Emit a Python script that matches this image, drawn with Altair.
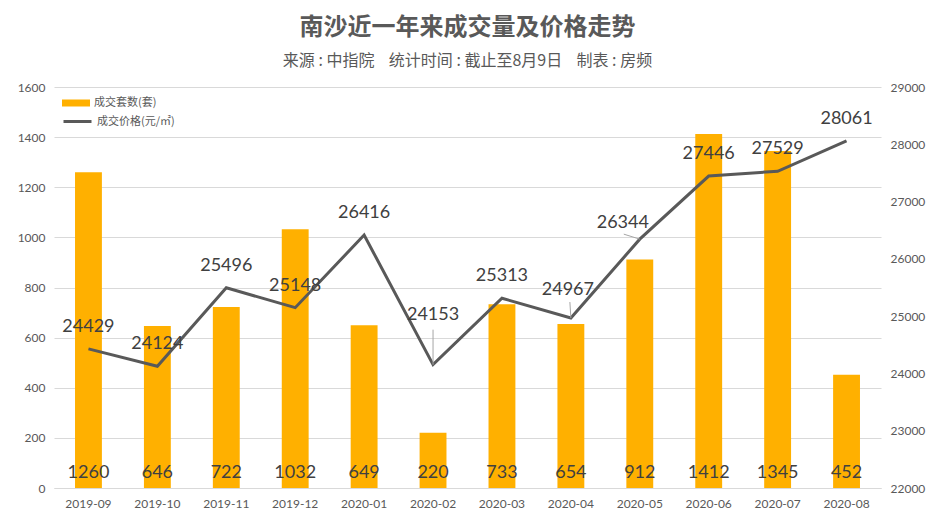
import altair as alt
import pandas as pd

months = ["2019-09", "2019-10", "2019-11", "2019-12", "2020-01", "2020-02",
          "2020-03", "2020-04", "2020-05", "2020-06", "2020-07", "2020-08"]
volumes = [1260, 646, 722, 1032, 649, 220, 733, 654, 912, 1412, 1345, 452]
prices = [24429, 24124, 25496, 25148, 26416, 24153, 25313, 24967, 26344, 27446, 27529, 28061]

bar_name = "成交套数(套)"
line_name = "成交价格(元/㎡)"

df = pd.DataFrame({"month": months, "volume": volumes, "price": prices,
                   "bar_s": bar_name, "line_s": line_name, "zero": 0})

ORANGE = "#FFB000"
GRAY = "#595959"
NUMFONT = "Lato"
CJK = "Noto Sans CJK SC"
NB = "\u00a0"

x = alt.X("month:N", sort=months, title=None,
          scale=alt.Scale(paddingInner=0.61, paddingOuter=0.305),
          axis=alt.Axis(labelAngle=0, ticks=False, domainColor="#D9D9D9",
                        labelColor=GRAY, labelFont=NUMFONT, labelFontSize=12,
                        labelPadding=10, grid=False))

left_scale = alt.Scale(domain=[0, 1600], nice=False)
left_axis = alt.Axis(values=list(range(0, 1601, 200)), ticks=False, domain=False,
                     format="d",
                     labelColor=GRAY, labelFont=NUMFONT, labelFontSize=12,
                     labelPadding=9, grid=True, gridColor="#D9D9D9")

bars = alt.Chart(df).mark_bar(color=ORANGE).encode(
    x=x,
    y=alt.Y("volume:Q", title=None, scale=left_scale, axis=left_axis),
    fill=alt.Fill("bar_s:N", title=None,
                  scale=alt.Scale(domain=[bar_name], range=[ORANGE]),
                  legend=alt.Legend(orient="none", legendX=8, legendY=2,
                                    symbolType="M-1,-0.25H1V0.25H-1Z", symbolSize=784,
                                    symbolStrokeWidth=0,
                                    labelFont=CJK, labelFontSize=11, labelColor=GRAY,
                                    labelOffset=4))
)

bar_text = alt.Chart(df).mark_text(font=NUMFONT, fontSize=18, color="#404040",
                                   baseline="middle", dy=-15).encode(
    x=x,
    y=alt.Y("zero:Q", title=None, scale=left_scale, axis=left_axis),
    text=alt.Text("volume:Q")
)

left = alt.layer(bars, bar_text)

right_scale = alt.Scale(domain=[22000, 29000], nice=False)
right_axis = alt.Axis(orient="right", values=list(range(22000, 29001, 1000)),
                      ticks=False, domain=False, grid=False, format="d",
                      labelColor=GRAY, labelFont=NUMFONT, labelFontSize=12,
                      labelPadding=9)

y_price = alt.Y("price:Q", title=None, scale=right_scale, axis=right_axis)

line = alt.Chart(df).mark_line(strokeWidth=3).encode(
    x=x,
    y=y_price,
    stroke=alt.Stroke("line_s:N", title=None,
                      scale=alt.Scale(domain=[line_name], range=[GRAY]),
                      legend=alt.Legend(orient="none", legendX=8, legendY=19,
                                        symbolType="stroke", symbolSize=784,
                                        symbolStrokeWidth=3,
                                        labelFont=CJK, labelFontSize=11, labelColor=GRAY,
                                        labelOffset=4))
)

special = ["2020-02", "2020-04", "2020-05"]


def price_label(flt, dx=0, dy=-22):
    return alt.Chart(df).transform_filter(flt).mark_text(
        font=NUMFONT, fontSize=18, color="#404040", baseline="middle", dx=dx, dy=dy
    ).encode(x=x, y=y_price, text=alt.Text("price:Q"))


def leader(month, x2off, y2off, yoff=0, xoff=0):
    return alt.Chart(df).transform_filter(alt.datum.month == month).mark_rule(
        color="#A6A6A6", strokeWidth=1, xOffset=xoff, yOffset=yoff,
        x2Offset=x2off, y2Offset=y2off
    ).encode(x=x, x2="month:N", y=y_price, y2="price:Q")


labels_main = price_label(~alt.FieldOneOfPredicate(field="month", oneOf=special))
label_feb = price_label(alt.datum.month == "2020-02", dy=-50)
label_apr = price_label(alt.datum.month == "2020-04", dx=-3, dy=-28)
label_may = price_label(alt.datum.month == "2020-05", dx=-17, dy=-16)

leaders = [
    leader("2020-02", 0, -35),
    leader("2020-04", -1, -16),
    leader("2020-05", -16, -5),
]

right = alt.layer(line, *leaders, labels_main, label_feb, label_apr, label_may)

GAP = NB * 4
subtitle = ("来源" + NB + ":" + NB + "中指院" + GAP + "统计时间" + NB + ":" + NB +
            "截止至8月9日" + GAP + "制表" + NB + ":" + NB + "房频")

chart = alt.layer(left, right).resolve_scale(
    y="independent", fill="independent", stroke="independent"
).properties(
    width=827, height=401,
    padding={"left": 9, "top": 8, "right": 5, "bottom": 5},
    title=alt.TitleParams(
        text="南沙近一年来成交量及价格走势",
        subtitle=subtitle,
        font=CJK, fontSize=24, fontWeight="bold", color=GRAY,
        subtitleFont=CJK, subtitleFontSize=16, subtitleColor=GRAY,
        subtitlePadding=13, anchor="middle", offset=12
    )
).configure_view(stroke=None)

chart.save("out.html", embed_options={"renderer": "svg", "actions": False})
